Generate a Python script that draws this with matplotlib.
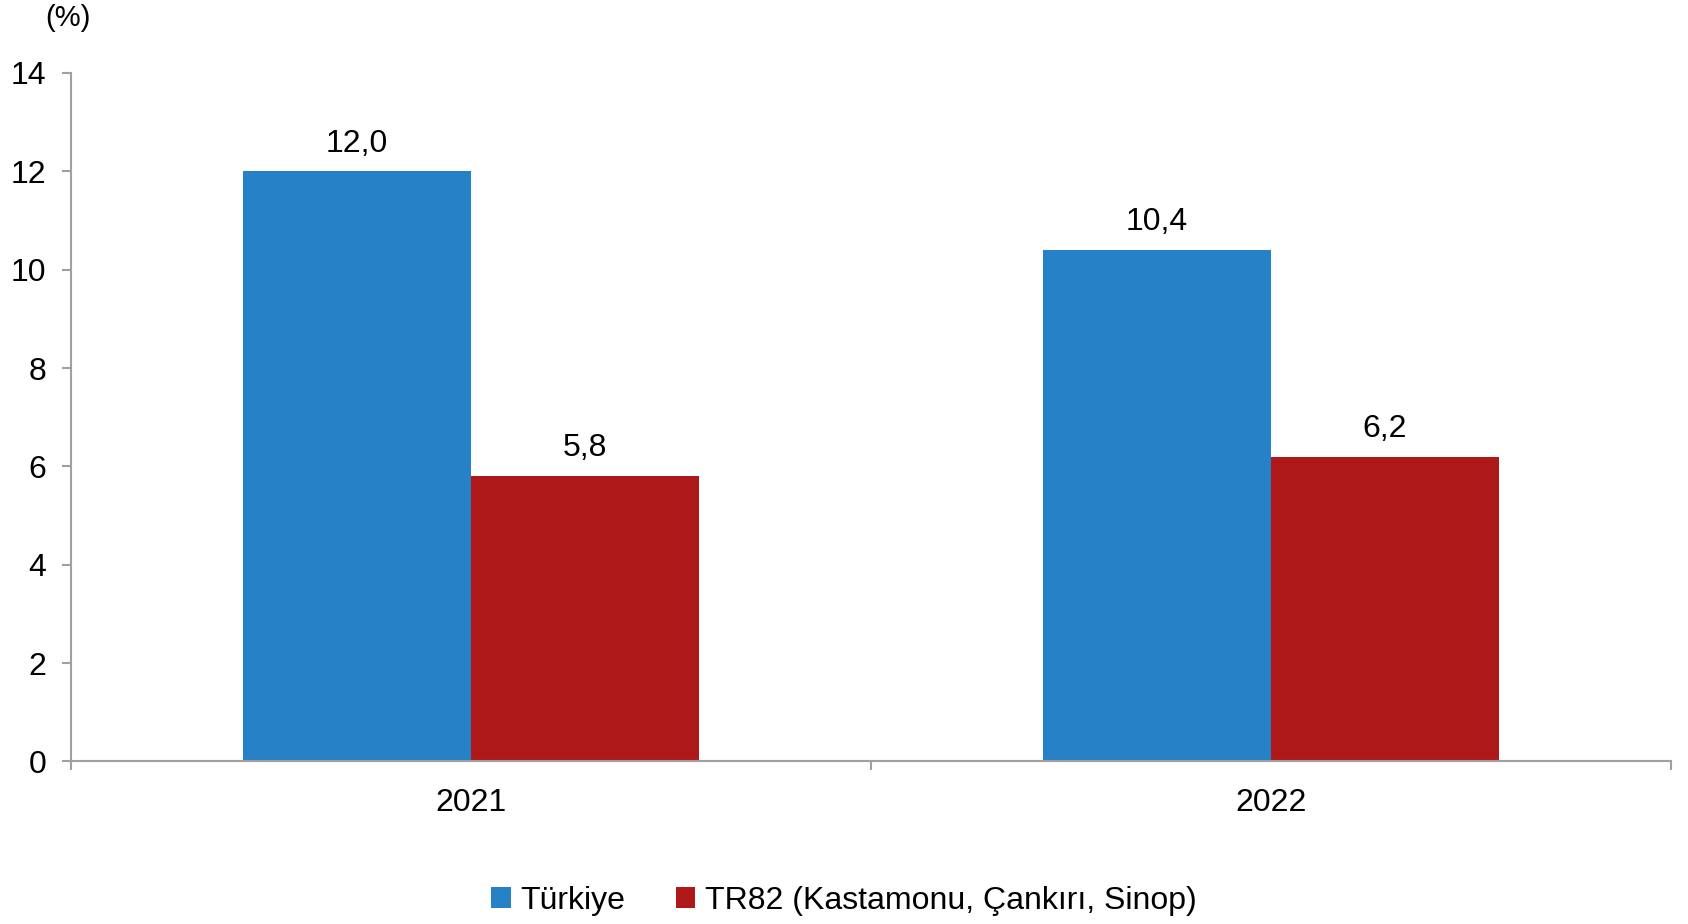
import numpy as np
import matplotlib.pyplot as plt

plt.rcParams['font.family'] = ['Liberation Sans', 'DejaVu Sans']

years = ['2021', '2022']
turkiye = [12.0, 10.4]
tr82 = [5.8, 6.2]
series_names = ['Türkiye', 'TR82 (Kastamonu, Çankırı, Sinop)']

blue = '#2681C6'
red = '#AF1818'
axis_gray = '#A0A0A0'

fig = plt.figure(figsize=(16.88, 9.24), dpi=100)
ax = fig.add_axes([0.042, 0.176, 0.948, 0.745])

x = np.arange(len(years))
w = 0.285
b1 = ax.bar(x - w / 2, turkiye, w, color=blue, label=series_names[0])
b2 = ax.bar(x + w / 2, tr82, w, color=red, label=series_names[1])

for bars, vals in ((b1, turkiye), (b2, tr82)):
    for rect, v in zip(bars, vals):
        ax.annotate(f'{v:.1f}'.replace('.', ','),
                    (rect.get_x() + rect.get_width() / 2, rect.get_height()),
                    xytext=(0, 20), textcoords='offset points',
                    ha='center', va='center', fontsize=23)

ax.set_xlim(-0.5, 1.5)
ax.set_ylim(0, 14)
ax.set_yticks(range(0, 15, 2))
ax.set_xticks(x)
ax.set_xticklabels(years)
ax.set_xticks([-0.5, 0.5, 1.5], minor=True)

for s in ('top', 'right'):
    ax.spines[s].set_visible(False)
for s in ('left', 'bottom'):
    ax.spines[s].set_color(axis_gray)
    ax.spines[s].set_linewidth(1.5)

ax.tick_params(axis='y', direction='out', length=6.5, width=1.5, color=axis_gray,
               labelsize=23, pad=11)
ax.tick_params(axis='x', which='major', length=0, labelsize=23, pad=19)
ax.tick_params(axis='x', which='minor', direction='out', length=6.5, width=1.5,
               color=axis_gray)

fig.text(0.040, 0.980, '(%)', ha='center', va='center', fontsize=21)

fig.legend(handles=[b1, b2], loc='center', bbox_to_anchor=(0.5, 0.025),
           ncol=2, frameon=False, fontsize=23, handlelength=0.6, handleheight=0.6,
           handletextpad=0.3, columnspacing=1.6)

fig.savefig('out.png', dpi=100)
